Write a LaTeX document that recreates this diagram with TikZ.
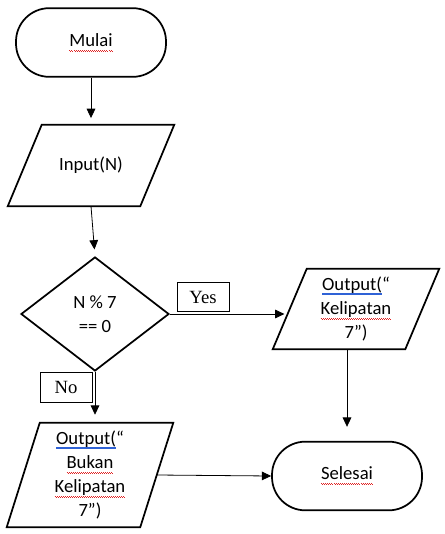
\documentclass[tikz,border=0pt]{standalone}
\usepackage{fontspec}
\setmainfont{Carlito}
\newfontfamily\timesfont{Liberation Serif}
\usepackage{tikz}
\usetikzlibrary{arrows.meta,positioning,shapes.geometric}
\definecolor{spellred}{HTML}{E02424}
\definecolor{gramblue}{HTML}{2F62D6}
% Word-style proofing marks
\newcommand{\ejaan}[1]{\setbox0\hbox{#1}\rlap{\textcolor{spellred}{\hbox to\wd0{\xleaders\hbox{\rule[-3.0pt]{0.75pt}{0.6pt}\rule[-3.8pt]{0.75pt}{0.6pt}}\hfill}}}#1}
\newcommand{\gramatika}[1]{\setbox0\hbox{#1}\rlap{\textcolor{gramblue}{\rule[-2.0pt]{\wd0}{0.5pt}}}\rlap{\textcolor{gramblue}{\rule[-3.3pt]{\wd0}{0.5pt}}}#1}

\begin{document}
\begin{tikzpicture}[
  x=0.75pt, y=-0.75pt,
  >={Triangle[length=7pt, width=6.5pt]},
  terminal/.style={draw, line width=1.3pt, rounded corners=25pt, minimum width=112.5pt,
                   minimum height=51.5pt, align=center, font=\fontsize{14}{18}\selectfont},
  io/.style={inner sep=1pt, minimum width=99pt, align=center,
             font=\fontsize{14}{18}\selectfont},
  outline/.style={line width=1.3pt, line join=miter},
  decision/.style={draw, line width=1.3pt, diamond, aspect=1.3, inner sep=0pt,
                   minimum width=111pt, minimum height=85.5pt, align=center,
                   font=\fontsize{14}{18}\selectfont},
  tag/.style={draw, line width=0.6pt, minimum width=39pt, minimum height=22pt,
              font=\timesfont\fontsize{14}{16}\selectfont},
  flow/.style={->, line width=0.6pt},
]
\useasboundingbox (0,0) rectangle (445,534);

% Column 1: start, input, decision
\node[terminal] (mulai) at (91,42.5) {\ejaan{Mulai}};
\node[io, minimum height=60.75pt] (input) at (91,165.5) {Input(N)};
\node[decision] (cek) at (95,314) {N \% 7\\== 0};

% Outputs
\node[io, minimum height=60pt] (outya) at (356,309)
  {\gramatika{Output(}“\\\ejaan{Kelipatan}\\7”)};
\node[io, minimum height=78pt, minimum width=99.75pt] (outbukan) at (90,475)
  {\gramatika{Output(}“\\\ejaan{Bukan}\\\ejaan{Kelipatan}\\7”)};

% End
\node[terminal] (selesai) at (347,476) {\ejaan{Selesai}};

% Parallelogram outlines (node box = body, half slant either side)
\foreach \nd/\s in {input/12.75pt, outya/12.75pt, outbukan/12.4pt}
  \draw[outline] ([xshift=\s]\nd.north west) -- ([xshift=\s]\nd.north east)
    -- ([xshift=-\s]\nd.south east) -- ([xshift=-\s]\nd.south west) -- cycle;

% Branch labels
\node[tag] (yes) at (203,297) {Yes};
\node[tag] (no) at (66,387.5) {No};

% Arrows
\draw[flow, shorten >=5pt] (mulai.south) -- (input.north);
\draw[flow, shorten >=5pt] (input.south) -- (cek.north);
\draw[flow, shorten >=6pt] (cek.south) -- (cek.south |- outbukan.north);
\draw[flow, shorten >=4pt] (cek.east) -- (cek.east -| outya.west);
\draw[flow, shorten >=10.5pt] (outya.south -| selesai.north) -- (selesai.north);
\draw[flow] (outbukan.east) -- (selesai.west);
\end{tikzpicture}
\end{document}
